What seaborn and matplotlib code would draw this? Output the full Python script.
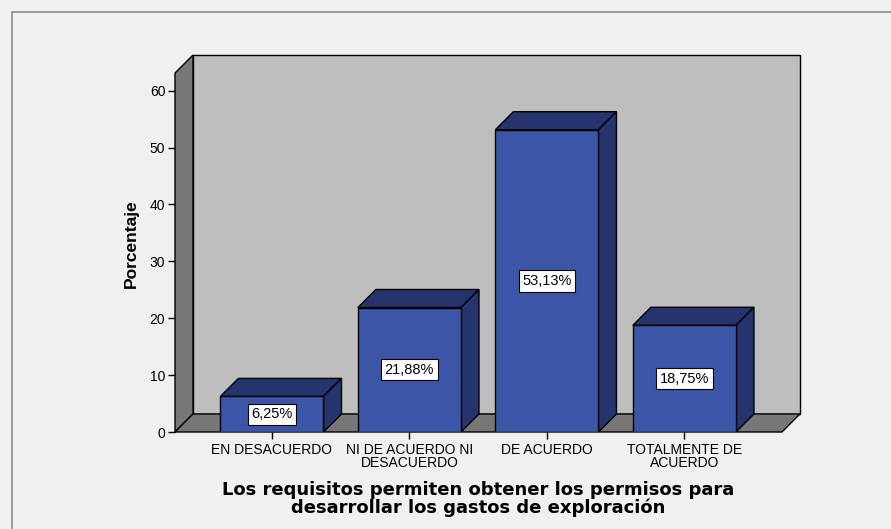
import numpy as np
import pandas as pd
import seaborn as sns
import matplotlib.pyplot as plt
from matplotlib.patches import Polygon, Rectangle

# --------------------------------------------------
# DATA
# --------------------------------------------------

categories = ["EN DESACUERDO", "NI DE ACUERDO NI\nDESACUERDO",
              "DE ACUERDO", "TOTALMENTE DE\nACUERDO"]
percent = [6.25, 21.88, 53.13, 18.75]
value_labels = ["6,25%", "21,88%", "53,13%", "18,75%"]
yticks = [0, 10, 20, 30, 40, 50, 60]

df = pd.DataFrame({"cat": categories, "pct": percent})

# --------------------------------------------------
# STYLE
# --------------------------------------------------

sns.set_theme(style="white")
plt.rcParams["font.family"] = ["Liberation Sans", "DejaVu Sans"]
plt.rcParams["text.color"] = "black"
plt.rcParams["axes.labelcolor"] = "black"
plt.rcParams["xtick.color"] = "black"
plt.rcParams["ytick.color"] = "black"

bg = "#f0f0f0"
front_col = "#3d55a6"
dark_col = "#26346e"
wall_col = "#bebebe"
floor_col = "#777777"

# depth offset of the 3D box (data units)
dx, dy = 0.131, 3.17
x0, x1 = -0.705, 3.71
top = 63.1

fig = plt.figure(figsize=(8.91, 5.29), dpi=100, facecolor=bg)
ax = fig.add_axes([175 / 891, 97 / 529, 625 / 891, 377 / 529])
ax.set_facecolor("none")

# outer frame
fig.patches.append(Rectangle((12 / 891, -0.1), 1.2, 1.1 - 12 / 529,
                             transform=fig.transFigure, fill=False,
                             edgecolor="#8a8a8a", lw=1.2))

# walls and floor
back = Polygon([(x0 + dx, dy), (x1 + dx, dy), (x1 + dx, top + dy), (x0 + dx, top + dy)],
               closed=True, facecolor=wall_col, edgecolor="black", lw=1, zorder=0)
left = Polygon([(x0, 0), (x0 + dx, dy), (x0 + dx, top + dy), (x0, top)],
               closed=True, facecolor=floor_col, edgecolor="black", lw=1, zorder=0.5)
floor = Polygon([(x0, 0), (x1, 0), (x1 + dx, dy), (x0 + dx, dy)],
                closed=True, facecolor=floor_col, edgecolor="black", lw=1, zorder=0.5)
for p in (back, left, floor):
    p.set_clip_on(False)
    ax.add_patch(p)

sns.barplot(data=df, x="cat", y="pct", color=front_col, width=0.75,
            edgecolor="black", linewidth=1, saturation=1, ax=ax, zorder=3)

for bar, lab in zip(ax.patches[3:], value_labels):
    xl = bar.get_x()
    xr = xl + bar.get_width()
    h = bar.get_height()
    top_face = Polygon([(xl, h), (xr, h), (xr + dx, h + dy), (xl + dx, h + dy)],
                       closed=True, facecolor=dark_col, edgecolor="black", lw=1, zorder=2)
    side_face = Polygon([(xr, 0), (xr + dx, dy), (xr + dx, h + dy), (xr, h)],
                        closed=True, facecolor=dark_col, edgecolor="black", lw=1, zorder=2)
    ax.add_patch(top_face)
    ax.add_patch(side_face)
    ax.text((xl + xr) / 2, h / 2, lab, ha="center", va="center", fontsize=10.5,
            color="black", zorder=5,
            bbox=dict(boxstyle="square,pad=0.25", facecolor="white",
                      edgecolor="black", lw=0.8))

ax.set_xlim(x0, x1 + dx)
ax.set_ylim(0, top + dy)
for s in ax.spines.values():
    s.set_visible(False)

ax.set_yticks(yticks)
ax.tick_params(axis="y", left=True, length=5, width=1, color="black",
               labelsize=10, pad=2)
ax.tick_params(axis="x", bottom=True, length=5, width=1, color="black",
               labelsize=10, pad=3)
for t in ax.get_xticklabels():
    t.set_linespacing(0.9)

ax.set_ylabel("Porcentaje", fontsize=12.5, fontweight="bold", labelpad=8,
              family=["Liberation Sans Narrow", "Liberation Sans", "DejaVu Sans"])
ax.set_xlabel("Los requisitos permiten obtener los permisos para\n"
              "desarrollar los gastos de exploración",
              fontsize=13, fontweight="bold", labelpad=8, linespacing=0.95,
              family=["DejaVu Sans"])
ax.xaxis.label.set_x(0.485)

fig.savefig("out.png", dpi=100, facecolor=bg)
